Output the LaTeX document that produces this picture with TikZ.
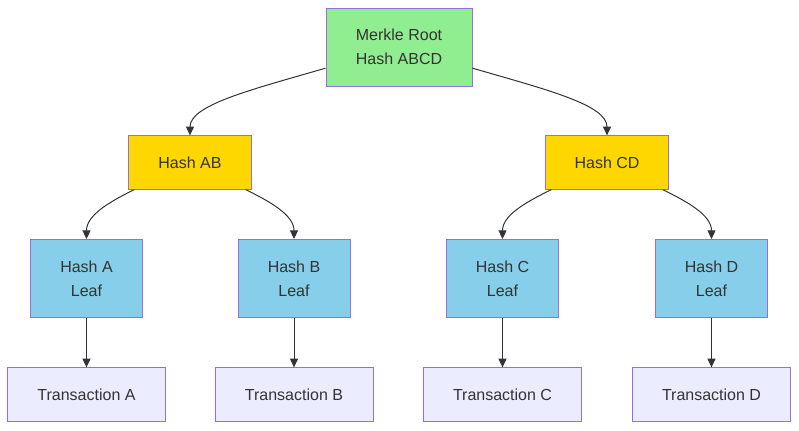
\documentclass[tikz,border=0pt]{standalone}
\usepackage{fontspec}
\setmainfont{Liberation Sans}
\usetikzlibrary{arrows.meta}
\definecolor{edgegray}{HTML}{333333}
\definecolor{boxline}{HTML}{9370DB}
\definecolor{rootfill}{HTML}{90EE90}
\definecolor{midfill}{HTML}{FFD700}
\definecolor{leaffill}{HTML}{87CEEB}
\definecolor{txfill}{HTML}{ECECFF}
\begin{document}
\begin{tikzpicture}[x=0.75pt,y=-0.75pt,
  box/.style={draw=boxline,line width=0.75pt,text=edgegray,align=center,inner sep=0pt,
    font=\fontsize{12}{18}\selectfont},
  rootbox/.style={box,fill=rootfill,minimum width=109.5pt,minimum height=58.5pt},
  midbox/.style={box,fill=midfill,minimum width=92pt,minimum height=40pt},
  leafbox/.style={box,fill=leaffill,minimum width=84pt,minimum height=58.5pt},
  txbox/.style={box,fill=txfill,minimum width=118.5pt,minimum height=40pt},
  link/.style={draw=edgegray,line width=0.75pt,-{Triangle[length=6.5pt,width=6pt]}}]
\useasboundingbox (0,0) rectangle (799,430);
\node[rootbox] (root) at (399,47) {Merkle Root\\Hash ABCD};
\node[midbox] (hab) at (190,162.5) {Hash AB};
\node[midbox] (hcd) at (607,162.5) {Hash CD};
\node[leafbox] (ha) at (86.5,278.5) {Hash A\\Leaf};
\node[leafbox] (hb) at (294,278.5) {Hash B\\Leaf};
\node[leafbox] (hc) at (502.5,278.5) {Hash C\\Leaf};
\node[leafbox] (hd) at (711.5,278.5) {Hash D\\Leaf};
\node[txbox] (ta) at (86.5,394.5) {Transaction A};
\node[txbox] (tb) at (294,394.5) {Transaction B};
\node[txbox] (tc) at (502.5,394.5) {Transaction C};
\node[txbox] (td) at (711.5,394.5) {Transaction D};
\draw[link] (root) .. controls (250,90) and (190,105) .. (hab.north);
\draw[link] (root) .. controls (548,90) and (607,105) .. (hcd.north);
\draw[link] (hab) .. controls (110,201.5) and (86.5,215) .. (ha.north);
\draw[link] (hab) .. controls (270,201.5) and (294,215) .. (hb.north);
\draw[link] (hcd) .. controls (527,201.5) and (502.5,215) .. (hc.north);
\draw[link] (hcd) .. controls (687,201.5) and (711.5,215) .. (hd.north);
\foreach \u/\v in {ha/ta,hb/tb,hc/tc,hd/td}
  \draw[link] (\u) -- (\v);
\end{tikzpicture}
\end{document}
